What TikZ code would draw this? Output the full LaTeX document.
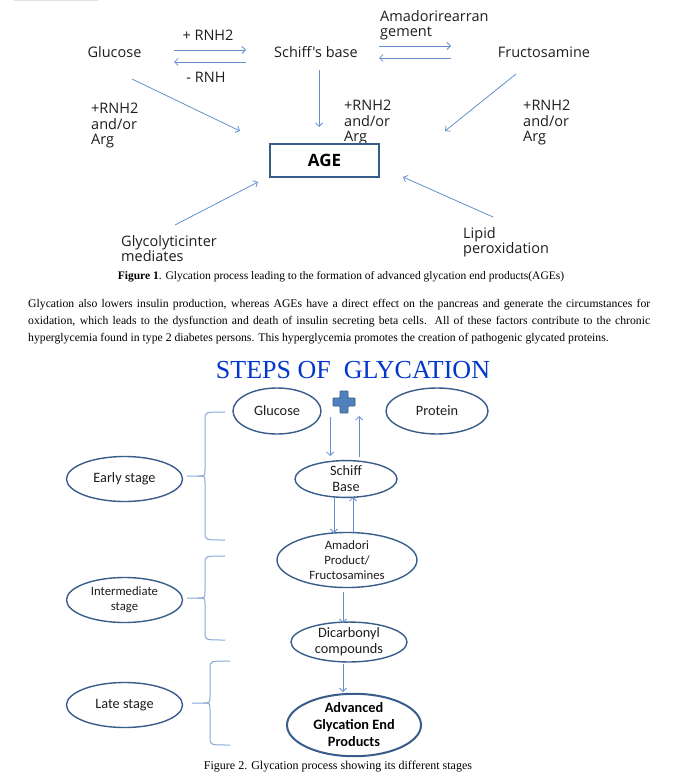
\documentclass[tikz,border=0pt]{standalone}
\usepackage{fontspec}
\setmainfont{Liberation Serif}
\newfontfamily\osans{Open Sans}
\newfontfamily\calib{Carlito}
\usetikzlibrary{shapes.geometric,arrows.meta}
\definecolor{ellc}{RGB}{56,93,138}
\definecolor{arrc}{RGB}{100,145,205}
\definecolor{bracec}{RGB}{135,170,215}
\definecolor{titlec}{RGB}{0,56,204}
\definecolor{txt}{RGB}{30,30,30}
\definecolor{plusf}{RGB}{79,129,189}
\newcommand{\mybrace}[5]{% xright, xvert, xtip, top, bottom ; mid computed
  \draw[brc] (#1,#4) .. controls (#2,#4) and (#2,#4) .. (#2,#4+7)
    -- (#2,{(#4+#5)/2-7}) .. controls (#2,{(#4+#5)/2}) and (#2,{(#4+#5)/2}) .. (#2-7,{(#4+#5)/2})
    -- (#3,{(#4+#5)/2});
  \draw[brc] (#1,#5) .. controls (#2,#5) and (#2,#5) .. (#2,#5-7)
    -- (#2,{(#4+#5)/2+7}) .. controls (#2,{(#4+#5)/2}) and (#2,{(#4+#5)/2}) .. (#2-7,{(#4+#5)/2});
}
\begin{document}
\begin{tikzpicture}[x=1pt,y=-1pt,
  t1/.style={font=\osans\fontsize{14.5}{15.5}\selectfont, text=txt, inner sep=0pt, align=left},
  ar/.style={draw=arrc, line width=0.8pt, -{Straight Barb[length=3.5pt,width=7pt]}},
  el/.style={ellipse, draw=ellc, line width=1.4pt, inner sep=0pt, align=center, text=txt,
    font=\calib\fontsize{14.3}{16}\selectfont},
  elsm/.style={el, font=\calib\fontsize{12.7}{15}\selectfont},
  brc/.style={draw=bracec, line width=1pt},
  para/.style={font=\fontsize{11.7}{17}\selectfont, inner sep=0pt, anchor=base west},
]
\useasboundingbox[fill=white] (0,0) rectangle (678,778);
\draw[black!12, line width=1pt] (14,0.5) -- (98,0.5);

% ---------------- Figure 1 ----------------
\node[t1] (gl1) at (114.5,52) {Glucose};
\node[t1] (sb1) at (316,52) {Schiff's base};
\node[t1] (fr1) at (544,52) {Fructosamine};
\node[t1] (p1) at (208,35) {+ RNH2};
\node[t1] (m1) at (206,77) {- RNH};
\node[t1, anchor=north west] (am) at (380,10) {Amadorirearran\\gement};
\node[t1, anchor=north west] (lA) at (91,103) {+RNH2\\and/or\\Arg};
\node[t1, anchor=north west] (lB) at (344,100) {+RNH2\\and/or\\Arg};
\node[t1, anchor=north west] (lC) at (523,100) {+RNH2\\and/or\\Arg};
\node[draw=ellc, line width=1.4pt, minimum width=109pt, minimum height=33pt, inner sep=0pt,
  font=\osans\bfseries\fontsize{17}{19}\selectfont, text=black] (age1) at (324.5,160.5) {AGE};
\node[t1, anchor=north west, text width=110pt] (gly) at (121,235) {Glycolyticinter\\mediates};
\node[t1, anchor=north west, text width=96pt] (lip) at (463,227) {Lipid\\peroxidation};

\draw[ar] ([shift={(59.5,-2)}]gl1.center) -- ([shift={(-70,-2)}]sb1.center);
\draw[ar] ([shift={(-70,10)}]sb1.center) -- ([shift={(59.5,10)}]gl1.center);
\draw[ar] ([shift={(63,-6)}]sb1.center) -- ([shift={(-93,-6)}]fr1.center);
\draw[ar] ([shift={(-93,6)}]fr1.center) -- ([shift={(63,6)}]sb1.center);
\draw[ar] ([shift={(17.5,27)}]gl1.center) -- ([shift={(-84.5,-29.5)}]age1.center);
\draw[ar] ([shift={(3,18)}]sb1.center) -- ([shift={(-5.5,-33.5)}]age1.center);
\draw[ar] ([shift={(-28,22)}]fr1.center) -- ([shift={(120.5,-29.5)}]age1.center);
\draw[ar] ([shift={(54,-10)}]gly.north west) -- ([shift={(-66.5,21.5)}]age1.center);
\draw[ar] ([shift={(30,-10)}]lip.north west) -- ([shift={(78.5,16.5)}]age1.center);

\node[font=\fontsize{11.5}{14}\selectfont, inner sep=0pt, anchor=base] (cap1) at (341,279)
  {\textbf{Figure 1}. Glycation process leading to the formation of advanced glycation end products(AGEs)};

% ---------------- Paragraph ----------------
\node[para] (pl1) at (28,307) {\makebox[622pt][s]{Glycation also lowers insulin production, whereas AGEs have a direct effect on the pancreas and generate the circumstances for}};
\node[para] (pl2) at (28,324) {\makebox[622pt][s]{oxidation, which leads to the dysfunction and death of insulin secreting beta cells. All of these factors contribute to the chronic}};
\node[para] (pl3) at (28,341) {hyperglycemia found in type 2 diabetes persons. This hyperglycemia promotes the creation of pathogenic glycated proteins.};

% ---------------- Figure 2 ----------------
\node[font=\fontsize{26}{30}\selectfont, text=titlec, inner sep=0pt, anchor=base] (title) at (353,378) {STEPS OF\ \ GLYCATION};

\node[el, minimum width=88pt, minimum height=46pt] (glu2) at (277,411) {Glucose};
\node[el, minimum width=102pt, minimum height=46pt] (pro2) at (437,411) {Protein};
\draw[ellc, line width=0.8pt, fill=plusf, rounded corners=0.8pt]
  (340,391) -- (348,391) -- (348,398) -- (355,398) -- (355,406) -- (348,406) -- (348,413)
  -- (340,413) -- (340,406) -- (333,406) -- (333,398) -- (340,398) -- cycle;
\node[el, minimum width=102pt, minimum height=36pt] (sch2) at (346,479) {Schiff\\Base};
\node[elsm, minimum width=140pt, minimum height=54pt] (ama2) at (347,560) {Amadori\\Product/\\Fructosamines};
\node[el, minimum width=116pt, minimum height=34pt] (dic2) at (349,642) {Dicarbonyl\\compounds};
\node[el, line width=2pt, minimum width=134pt, minimum height=58pt, font=\calib\bfseries\fontsize{14.3}{17}\selectfont, text=black] (age2) at (354,725) {Advanced\\Glycation End\\Products};

\node[el, minimum width=116pt, minimum height=45pt] (early) at (124.5,479) {Early stage};
\node[elsm, minimum width=116pt, minimum height=45pt] (inter) at (124.5,600) {Intermediate\\stage};
\node[el, minimum width=116pt, minimum height=45pt] (late) at (124.5,705) {Late stage};

\draw[ar] ([shift={(-16,-62)}]sch2.center) -- ([shift={(-16,-23)}]sch2.center);
\draw[ar] ([shift={(13,-22)}]sch2.center) -- ([shift={(13,-63)}]sch2.center);
\draw[ar] ([shift={(-12,18)}]sch2.center) -- ([shift={(-13,-27)}]ama2.center);
\draw[ar] ([shift={(6,-27)}]ama2.center) -- ([shift={(7,18)}]sch2.center);
\draw[ar] ([shift={(-4,32)}]ama2.center) -- ([shift={(-6,-19)}]dic2.center);
\draw[ar] ([shift={(-6,22)}]dic2.center) -- ([shift={(-11,-33)}]age2.center);

\mybrace{225}{205}{187}{412}{540}
\mybrace{225}{205}{187}{556}{640}
\mybrace{230}{210}{192}{661}{745}

\node[font=\fontsize{12}{14}\selectfont, inner sep=0pt, anchor=base] (cap2) at (338,769)
  {Figure 2. Glycation process showing its different stages};
\end{tikzpicture}
\end{document}
